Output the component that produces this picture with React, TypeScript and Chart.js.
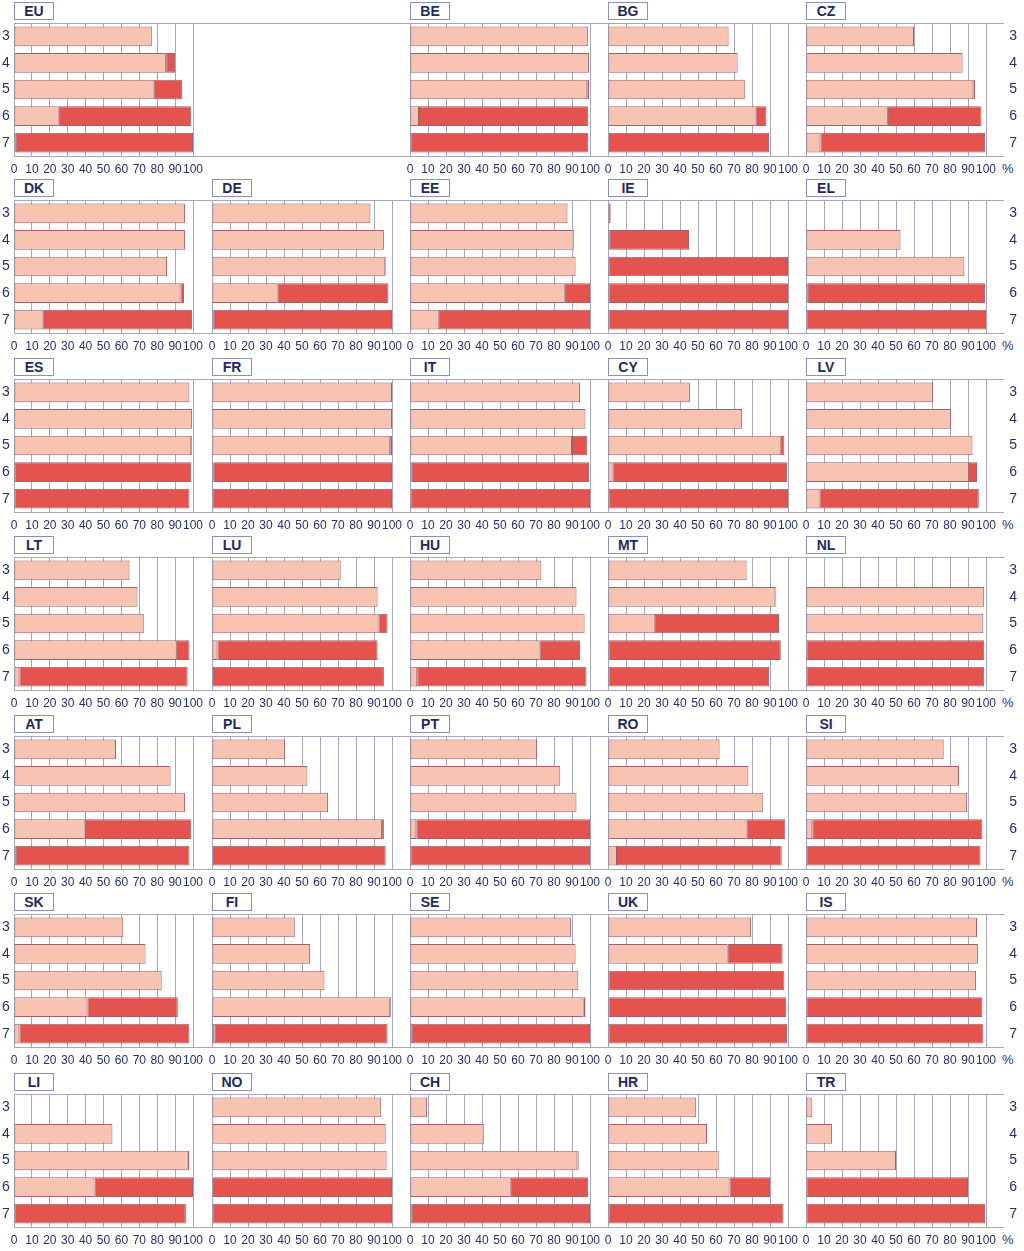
import React, { useEffect, useRef } from 'react';
import { Chart, registerables } from 'chart.js';
Chart.register(...registerables);

// ---- data ----
const grades = ['3', '4', '5', '6', '7'];
const xTickValues = [0, 10, 20, 30, 40, 50, 60, 70, 80, 90, 100];

// light = one foreign language, red = two or more (percent of pupils)
const EU_one = [77, 85, 78, 25, 1];
const EU_two = [0, 5, 16, 74, 99];
const BE_one = [99, 99.5, 98.5, 5, 0];
const BE_two = [0, 0, 1, 94, 99];
const BG_one = [67, 72, 76, 82, 0.5];
const BG_two = [0, 0, 0, 6, 89];
const CZ_one = [60, 87, 93, 45.5, 8];
const CZ_two = [0, 0, 1, 52, 91.5];
const DK_one = [95.5, 95.5, 85.5, 93, 16];
const DK_two = [0, 0, 0, 2, 83.5];
const DE_one = [88, 95.5, 96, 36.5, 1];
const DE_two = [0, 0, 0.5, 61.5, 99];
const EE_one = [87.5, 91, 92, 86, 16];
const EE_two = [0, 0, 0, 14, 84];
const IE_one = [1.5, 1, 0, 0, 0];
const IE_two = [0, 44, 100, 100, 100];
const EL_one = [0, 52.5, 88, 1, 0];
const EL_two = [0, 0, 0, 98.5, 100];
const ES_one = [98, 99.5, 99, 0, 0];
const ES_two = [0, 0, 0.5, 99, 98];
const FR_one = [100, 100, 99, 1, 0];
const FR_two = [0, 0, 1, 99, 100];
const IT_one = [94.5, 97.5, 90, 1, 0];
const IT_two = [0, 0, 8.5, 98.5, 100];
const CY_one = [45.5, 74.5, 96, 2.5, 0];
const CY_two = [0, 0, 2, 97, 100];
const LV_one = [70.5, 80.5, 92.5, 90.5, 7.5];
const LV_two = [0, 0, 0, 4.5, 88.5];
const LT_one = [64.5, 69, 72.5, 91, 3];
const LT_two = [0, 0, 0, 7, 94];
const LU_one = [71.5, 92, 92.5, 3, 0.5];
const LU_two = [0, 0, 5, 89, 95];
const HU_one = [73, 92.5, 97, 72, 4];
const HU_two = [0, 0, 0, 22.5, 94];
const MT_one = [77, 93, 26, 0, 0];
const MT_two = [0, 0.5, 69, 96, 89.5];
const NL_one = [0, 99, 98.5, 0, 0];
const NL_two = [0, 0, 0, 99, 99];
const AT_one = [57, 87.5, 95.5, 39.5, 1];
const AT_two = [0, 0, 0, 59.5, 97];
const PL_one = [40.5, 53, 64.5, 94.5, 0.5];
const PL_two = [0, 0, 0, 1, 96];
const PT_one = [70.5, 83.5, 92, 3.5, 0];
const PT_two = [0, 0, 0.5, 96.5, 100];
const RO_one = [62, 78, 86, 77, 5];
const RO_two = [0, 0, 0, 21.5, 91.5];
const SI_one = [76.5, 85, 89.5, 3.5, 0];
const SI_two = [0, 0, 0, 94.5, 97];
const SK_one = [61, 73.5, 82.5, 41, 3];
const SK_two = [0, 0, 0, 50.5, 95];
const FI_one = [46, 54.5, 62.5, 99, 1.5];
const FI_two = [0, 0, 0, 0.5, 96];
const SE_one = [89.5, 92, 93.5, 96.5, 1];
const SE_two = [0, 0, 0, 1, 99];
const UK_one = [79.5, 66.5, 0, 0, 0];
const UK_two = [0, 30.5, 98, 99, 99.5];
const IS_one = [95, 95.5, 94.5, 0, 0];
const IS_two = [0, 0, 0, 98, 98.5];
const LI_one = [0.5, 55, 97, 45, 0];
const LI_two = [0, 0, 1, 55, 96];
const NO_one = [94, 96.5, 97, 0.5, 0];
const NO_two = [0, 0, 0, 99.5, 100];
const CH_one = [9.5, 41, 93, 56, 1];
const CH_two = [0, 0, 0.7, 43, 99];
const HR_one = [49, 55, 61.5, 67.5, 0];
const HR_two = [0, 0, 0, 22.5, 97.5];
const TR_one = [3.5, 14.5, 50, 0, 0];
const TR_two = [0, 0, 0, 90, 99.5];

type PanelData = { code: string; one: number[]; two: number[] };

const panels: (PanelData | null)[] = [
  { code: 'EU', one: EU_one, two: EU_two }, null,
  { code: 'BE', one: BE_one, two: BE_two },
  { code: 'BG', one: BG_one, two: BG_two },
  { code: 'CZ', one: CZ_one, two: CZ_two },
  { code: 'DK', one: DK_one, two: DK_two },
  { code: 'DE', one: DE_one, two: DE_two },
  { code: 'EE', one: EE_one, two: EE_two },
  { code: 'IE', one: IE_one, two: IE_two },
  { code: 'EL', one: EL_one, two: EL_two },
  { code: 'ES', one: ES_one, two: ES_two },
  { code: 'FR', one: FR_one, two: FR_two },
  { code: 'IT', one: IT_one, two: IT_two },
  { code: 'CY', one: CY_one, two: CY_two },
  { code: 'LV', one: LV_one, two: LV_two },
  { code: 'LT', one: LT_one, two: LT_two },
  { code: 'LU', one: LU_one, two: LU_two },
  { code: 'HU', one: HU_one, two: HU_two },
  { code: 'MT', one: MT_one, two: MT_two },
  { code: 'NL', one: NL_one, two: NL_two },
  { code: 'AT', one: AT_one, two: AT_two },
  { code: 'PL', one: PL_one, two: PL_two },
  { code: 'PT', one: PT_one, two: PT_two },
  { code: 'RO', one: RO_one, two: RO_two },
  { code: 'SI', one: SI_one, two: SI_two },
  { code: 'SK', one: SK_one, two: SK_two },
  { code: 'FI', one: FI_one, two: FI_two },
  { code: 'SE', one: SE_one, two: SE_two },
  { code: 'UK', one: UK_one, two: UK_two },
  { code: 'IS', one: IS_one, two: IS_two },
  { code: 'LI', one: LI_one, two: LI_two },
  { code: 'NO', one: NO_one, two: NO_two },
  { code: 'CH', one: CH_one, two: CH_two },
  { code: 'HR', one: HR_one, two: HR_two },
  { code: 'TR', one: TR_one, two: TR_two },
];

// ---- layout / style ----
const COL_X = [14, 212, 410, 608, 806];
const COL_W = [179, 180, 180, 180, 180];
const ROW_Y = [23, 200, 379, 557, 736, 914, 1094];
const PLOT_H = 133;
const PAD_T = 10;
const PAD_R = 12;
const XAXIS_H = 26;
const NAVY = '#25306a';
const GRID = '#a5a5bb';
const LIGHT = '#f8c3b1';
const RED = '#e4534d';
const BAR_BORDER = '#a0606c';
const TICK_FONT = "'Liberation Sans Narrow', 'Liberation Sans', Arial, sans-serif";

function Panel({ def, row, col }: { def: PanelData; row: number; col: number }) {
  const ref = useRef<HTMLCanvasElement | null>(null);
  const plotX = COL_X[col];
  const plotW = COL_W[col];
  const plotY = ROW_Y[row];
  const leftW = col === 0 ? plotX : 10; // space left of plot inside canvas
  const rightW = col === 4 ? 1024 - (plotX + plotW) : PAD_R;
  const cw = leftW + plotW + rightW;
  const ch = PAD_T + PLOT_H + XAXIS_H;
  const cl = plotX - leftW;
  const ct = plotY - PAD_T;

  useEffect(() => {
    if (!ref.current) return;
    const toNull = (a: number[]) => a.map((v) => (v === 0 ? null : v));
    const showY = col === 0 || col === 4;
    const yWidth = col === 0 ? 12 : col === 4 ? 1024 - 7 - (plotX + plotW) : 0;
    const chart = new Chart(ref.current, {
      type: 'bar',
      data: {
        labels: grades,
        datasets: [
          {
            label: 'One foreign language',
            data: toNull(def.one) as any,
            backgroundColor: LIGHT,
            borderColor: BAR_BORDER,
            borderWidth: 1,
            borderSkipped: false,
            barPercentage: 0.74,
            categoryPercentage: 1,
          },
          {
            label: 'Two or more foreign languages',
            data: toNull(def.two) as any,
            backgroundColor: RED,
            borderColor: BAR_BORDER,
            borderWidth: 1,
            borderSkipped: false,
            barPercentage: 0.74,
            categoryPercentage: 1,
          },
        ],
      },
      options: {
        indexAxis: 'y',
        animation: false,
        responsive: false,
        devicePixelRatio: 1,
        layout: {
          padding: {
            left: col === 0 ? 2 : 10,
            right: col === 4 ? 7 : PAD_R,
            top: PAD_T,
            bottom: 0,
          },
        },
        plugins: { legend: { display: false }, tooltip: { enabled: false } },
        scales: {
          x: {
            stacked: true,
            min: 0,
            max: 100,
            afterBuildTicks: (s: any) => {
              s.ticks = xTickValues.map((v) => ({ value: v }));
            },
            afterFit: (s: any) => {
              s.height = XAXIS_H;
            },
            grid: {
              color: GRID,
              lineWidth: 1,
              drawTicks: true,
              tickLength: 6,
              tickColor: 'rgba(0,0,0,0)',
            },
            border: { display: true, color: GRID, width: 1 },
            ticks: {
              color: NAVY,
              font: { family: TICK_FONT, size: 12 },
              padding: 0,
              autoSkip: false,
              maxRotation: 0,
              minRotation: 0,
            },
          },
          y: {
            stacked: true,
            display: showY,
            position: col === 4 ? 'right' : 'left',
            afterFit: (s: any) => {
              if (showY) s.width = yWidth;
            },
            grid: { display: false, drawTicks: false },
            border: { display: false },
            ticks: {
              color: NAVY,
              font: { family: TICK_FONT, size: 14 },
              padding: 0,
              crossAlign: 'far',
            },
          },
        },
      },
    });
    return () => chart.destroy();
  }, []);

  return (
    <>
      <div
        style={{
          position: 'absolute',
          left: plotX,
          top: plotY - 21,
          width: 40,
          height: 18,
          boxSizing: 'border-box',
          border: '1px solid #8c90b4',
          background: '#fff',
          color: '#1f2a5c',
          fontFamily: "'Liberation Sans', Arial, sans-serif",
          fontWeight: 'bold',
          fontSize: 14,
          lineHeight: '16px',
          textAlign: 'center',
        }}
      >
        {def.code}
      </div>
      <canvas
        ref={ref}
        width={cw}
        height={ch}
        style={{ position: 'absolute', left: cl, top: ct, width: cw, height: ch }}
      />
    </>
  );
}

export default function App() {
  return (
    <div style={{ position: 'absolute', left: 0, top: 0, width: 1024, height: 1251, background: '#fff', overflow: 'hidden' }}>
      {ROW_Y.map((y, r) => (
        <React.Fragment key={'row' + r}>
          <div
            style={{
              position: 'absolute',
              left: 14,
              top: y,
              width: 990,
              height: PLOT_H + 1,
              boxSizing: 'border-box',
              borderTop: `1px solid ${GRID}`,
              borderBottom: `1px solid ${GRID}`,
            }}
          />
          <div
            style={{
              position: 'absolute',
              left: 1002,
              top: y + PLOT_H + 5,
              fontFamily: TICK_FONT,
              fontSize: 13,
              lineHeight: '15px',
              color: NAVY,
            }}
          >
            %
          </div>
        </React.Fragment>
      ))}
      {panels.map((p, i) =>
        p ? <Panel key={p.code} def={p} row={Math.floor(i / 5)} col={i % 5} /> : null
      )}
    </div>
  );
}
